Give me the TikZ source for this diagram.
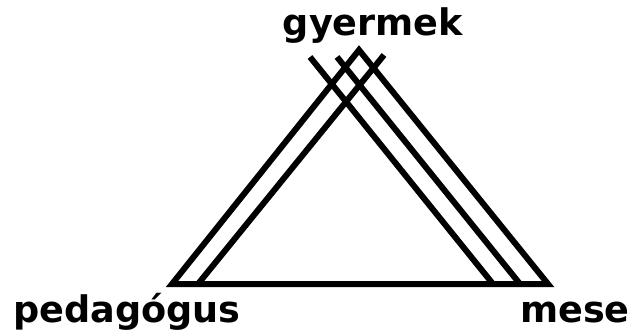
\documentclass[tikz,border=0pt]{standalone}
\usepackage{fontspec}
\setmainfont{DejaVu Sans}
\begin{document}
\begin{tikzpicture}[x=1pt,y=-1pt,
  edge/.style={line width=6pt, line join=miter, line cap=butt},
  label/.style={font=\bfseries\fontsize{36.6}{40}\selectfont, inner sep=0pt, anchor=base}]
\useasboundingbox (0,0) rectangle (636,331);
% outer triangle corners
\coordinate (L) at (172,284);
\coordinate (T) at (359,50);
\coordinate (R) at (548,284);
% inner line ends
\coordinate (L2) at (198,284);
\coordinate (T2) at (384,55);
\coordinate (A1) at (310,57);
\coordinate (B1) at (493,284);
\coordinate (A2) at (337,57);
\coordinate (B2) at (520,284);
\draw[edge] (L) -- (T) -- (R) -- cycle;
\draw[edge] (L2) -- (T2);
\draw[edge] (A1) -- (B1);
\draw[edge] (A2) -- (B2);
\node[label] (g) at (373,36) {gyermek};
\node[label] (p) at (127,322) {pedagógus};
\node[label] (m) at (575,322) {mese};
\end{tikzpicture}
\end{document}
